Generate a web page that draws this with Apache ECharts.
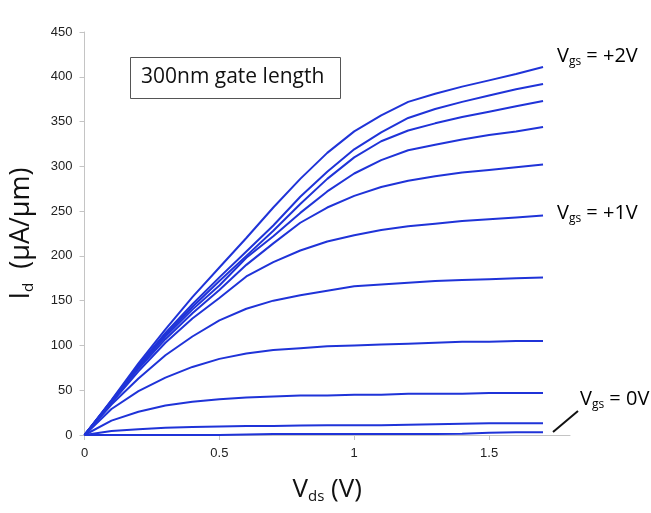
<!DOCTYPE html>
<html>
<head>
<meta charset="utf-8">
<script src="https://cdn.jsdelivr.net/npm/echarts@6/dist/echarts.min.js"></script>
<style>
  html, body { margin: 0; padding: 0; background: #fff; }
  #chart { width: 651px; height: 513px; }
</style>
</head>
<body>
<div id="chart"></div>
<script>
  // drain voltage sweep (V)
  const vds = [0, 0.1, 0.2, 0.3, 0.4, 0.5, 0.6, 0.7, 0.8, 0.9, 1.0, 1.1, 1.2, 1.3, 1.4, 1.5, 1.6, 1.7];

  // drain current (uA/um), one curve per gate voltage, 0V .. +2V in 0.2V steps
  const idVgs20 = [0, 39, 80, 118, 154, 187, 220, 254, 286, 315, 339, 357, 372, 381, 389, 396, 403, 411];
  const idVgs18 = [0, 38, 78, 114, 146, 176, 205, 234, 266, 294, 319, 338, 354, 364, 372, 379, 386, 392];
  const idVgs16 = [0, 38, 77, 112, 143, 172, 200, 228, 258, 286, 310, 328, 340, 348, 355, 361, 367, 373];
  const idVgs14 = [0, 37, 76, 110, 140, 167, 198, 222, 248, 272, 292, 307, 318, 324, 330, 335, 339, 344];
  const idVgs12 = [0, 37, 74, 107, 136, 162, 190, 214, 237, 254, 267, 277, 284, 289, 293, 296, 299, 302];
  const idVgs10 = [0, 36, 71, 103, 130, 153, 177, 193, 206, 216, 223, 229, 233, 236, 239, 241, 243, 245];
  const idVgs08 = [0, 34, 63, 89, 110, 128, 141, 150, 156, 161, 166, 168, 170, 172, 173, 174, 175, 176];
  const idVgs06 = [0, 29, 49, 64, 76, 85, 91, 95, 97, 99, 100, 101, 102, 103, 104, 104, 105, 105];
  const idVgs04 = [0, 16, 26, 33, 37, 40, 42, 43, 44, 44, 45, 45, 46, 46, 46, 47, 47, 47];
  const idVgs02 = [0, 4.5, 6.5, 8, 9, 9.5, 10, 10, 10.5, 11, 11, 11, 11.5, 12, 12.5, 13, 13, 13];
  const idVgs00 = [0, 0, 0, 0, 0, 0, 0.5, 1, 1, 1, 1, 1, 1, 1, 1.5, 2.5, 3, 3];

  const curves = [
    ['+2.0V', idVgs20], ['+1.8V', idVgs18], ['+1.6V', idVgs16], ['+1.4V', idVgs14],
    ['+1.2V', idVgs12], ['+1.0V', idVgs10], ['+0.8V', idVgs08], ['+0.6V', idVgs06],
    ['+0.4V', idVgs04], ['+0.2V', idVgs02], ['0V', idVgs00],
  ];

  const xTicks = [0, 0.5, 1, 1.5];

  const LINE = '#1f33d8';
  const AXIS = '#c4c4c4';
  const TITLE_FONT = "'Open Sans', 'Noto Sans', sans-serif";

  // rich styles for labels with subscripts
  const sub = (size, drop) => ({ fontSize: size, fontFamily: TITLE_FONT, color: '#111', padding: [drop, 0, 0, 0] });
  const big = (size) => ({ fontSize: size, fontFamily: TITLE_FONT, color: '#111' });

  const chart = echarts.init(document.getElementById('chart'), null, { renderer: 'canvas' });

  chart.setOption({
    animation: false,
    backgroundColor: '#fff',
    grid: { left: 84, right: 81, top: 32, bottom: 78 },
    xAxis: {
      type: 'value',
      min: 0,
      max: 1.8,
      interval: 0.5,
      name: '{v|V}{s|ds}{v| (V)}',
      nameLocation: 'middle',
      nameGap: 40,
      nameTextStyle: { rich: { v: big(26), s: sub(15, 14) } },
      axisLine: { lineStyle: { color: AXIS, width: 1 } },
      axisTick: { show: true, length: 5, lineStyle: { color: AXIS }, customValues: xTicks },
      axisLabel: {
        customValues: xTicks,
        margin: 12,
        color: '#222',
        fontSize: 13,
        fontFamily: "'Liberation Sans', Arial, sans-serif",
        formatter: (v) => String(v),
      },
      splitLine: { show: false },
    },
    yAxis: {
      type: 'value',
      min: 0,
      max: 450,
      interval: 50,
      name: '{v|I}{s|d}{v|  (µA/µm)}',
      nameLocation: 'middle',
      nameGap: 48,
      nameTextStyle: { rich: { v: big(27), s: sub(15, 15) } },
      axisLine: { show: true, lineStyle: { color: AXIS, width: 1 } },
      axisTick: { show: true, length: 5, lineStyle: { color: AXIS } },
      axisLabel: {
        margin: 12,
        color: '#222',
        fontSize: 13,
        fontFamily: "'Liberation Sans', Arial, sans-serif",
      },
      splitLine: { show: false },
    },
    graphic: [
      {
        type: 'rect',
        shape: { x: 130.5, y: 57.5, width: 210, height: 41 },
        style: { fill: '#fff', stroke: '#555', lineWidth: 1 },
        z: 10,
      },
      {
        type: 'text',
        left: 141, top: 67,
        style: { text: '300nm gate length', font: "21px 'Open Sans', sans-serif", fill: '#111' },
        z: 11,
      },
      {
        type: 'text', left: 557, top: 46,
        style: { text: '{v|V}{s|gs}{v| = +2V}', rich: { v: big(20), s: sub(12, 12) } },
      },
      {
        type: 'text', left: 557, top: 203,
        style: { text: '{v|V}{s|gs}{v| = +1V}', rich: { v: big(20), s: sub(12, 12) } },
      },
      {
        type: 'text', left: 580, top: 389,
        style: { text: '{v|V}{s|gs}{v| = 0V}', rich: { v: big(20), s: sub(12, 12) } },
      },
      {
        type: 'line',
        shape: { x1: 553, y1: 432, x2: 578, y2: 411 },
        style: { stroke: '#111', lineWidth: 2 },
      },
    ],
    series: curves.map(([name, ids]) => ({
      name,
      type: 'line',
      data: vds.map((v, i) => [v, ids[i]]),
      showSymbol: false,
      smooth: false,
      lineStyle: { color: LINE, width: 2 },
      itemStyle: { color: LINE },
    })),
  });
</script>
</body>
</html>
